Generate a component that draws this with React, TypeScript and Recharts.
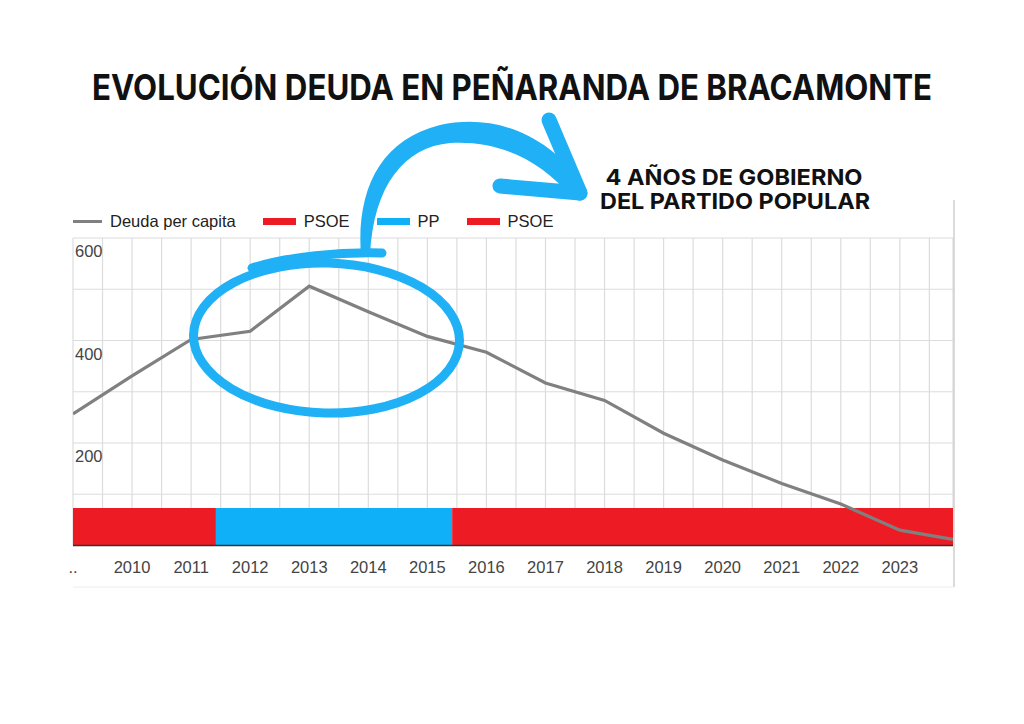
import React from 'react';
import { ComposedChart, Line, XAxis, YAxis, CartesianGrid, ReferenceArea, Legend } from 'recharts';

// deuda per capita (€) por año; el último punto es finales de 2023
const years = [2009, 2010, 2011, 2012, 2013, 2014, 2015, 2016, 2017, 2018, 2019, 2020, 2021, 2022, 2023, 2023.9];
const deuda = [257, 331, 402, 418, 506, 456, 408, 377, 317, 283, 219, 167, 121, 81, 30, 12];

// periodos de gobierno municipal
const periodParty = ['PSOE', 'PP', 'PSOE'];
const periodStart = [2009, 2011.42, 2015.42];
const periodEnd = [2011.42, 2015.42, 2023.9];
const bandTop = 73;

const partyColors: Record<string, string> = { PSOE: '#ed1c24', PP: '#10b0f8' };

const legendNames = ['Deuda per capita', 'PSOE', 'PP', 'PSOE'];
const legendColors = ['#808080', '#ed1c24', '#10b0f8', '#ed1c24'];

const yTicks = [0, 100, 200, 300, 400, 500, 600];
const yLabelled = [200, 400, 600];
const xTicks = Array.from({ length: 30 }, (_, i) => 2009 + i * 0.5);

const data = years.map((year, i) => ({ year, deuda: deuda[i] }));

const TICK_FONT = '"Liberation Sans", Arial, sans-serif';

const XTick = (props: any) => {
  const { x, y, payload } = props;
  const v = payload.value;
  if (!Number.isInteger(v)) return null;
  const label = v === 2009 ? '..' : String(v);
  return (
    <text x={x} y={y} dy={19} textAnchor="middle" fill="#444" fontSize={16.5} fontFamily={TICK_FONT}>
      {label}
    </text>
  );
};

const YTick = (props: any) => {
  const { x, y, payload } = props;
  if (!yLabelled.includes(payload.value)) return null;
  return (
    <text x={x} y={y} dy={19} textAnchor="start" fill="#444" fontSize={16.5} fontFamily={TICK_FONT}>
      {payload.value}
    </text>
  );
};

const LegendContent = () => (
  <div style={{ display: 'flex', alignItems: 'center', height: 22, fontFamily: TICK_FONT, fontSize: 16.5, color: '#222', whiteSpace: 'nowrap' }}>
    {legendNames.map((name, i) => (
      <div key={i} style={{ display: 'flex', alignItems: 'center', marginRight: 27 }}>
        <span
          style={{
            display: 'inline-block',
            width: i === 0 ? 29 : 33,
            height: i === 0 ? 3 : 7,
            background: legendColors[i],
            marginRight: 8,
          }}
        />
        <span>{name}</span>
      </div>
    ))}
  </div>
);

const BLUE = '#1fb0f5';

export default function App() {
  return (
    <div style={{ position: 'absolute', left: 0, top: 0, width: 1024, height: 724, background: '#fff' }}>
      <ComposedChart
        width={1024}
        height={724}
        data={data}
        margin={{ top: 238, right: 71, bottom: 148.5, left: 73 }}
      >
        <CartesianGrid stroke="#dcdcdc" strokeWidth={1.2} />
        <XAxis
          type="number"
          dataKey="year"
          domain={[2009, 2023.9]}
          ticks={xTicks}
          interval={0}
          allowDataOverflow
          tickLine={false}
          axisLine={{ stroke: '#333', strokeWidth: 1.5 }}
          tick={<XTick />}
          height={30}
        />
        <YAxis
          type="number"
          domain={[0, 600]}
          ticks={yTicks}
          mirror
          axisLine={false}
          tickLine={false}
          tickSize={0}
          tickMargin={2}
          tick={<YTick />}
        />
        {periodParty.map((p, i) => (
          <ReferenceArea
            key={i}
            x1={periodStart[i]}
            x2={periodEnd[i]}
            y1={0}
            y2={bandTop}
            fill={partyColors[p]}
            fillOpacity={1}
            stroke="none"
          />
        ))}
        <Line
          type="linear"
          dataKey="deuda"
          stroke="#808080"
          strokeWidth={3.2}
          dot={false}
          isAnimationActive={false}
        />
        <Legend
          layout="horizontal"
          verticalAlign="middle"
          align="center"
          wrapperStyle={{ top: 210, left: 73, width: 'auto', height: 22 }}
          content={<LegendContent />}
        />
      </ComposedChart>

      <svg
        width={1024}
        height={724}
        style={{ position: 'absolute', left: 0, top: 0, pointerEvents: 'none' }}
      >
        {/* marco de la captura */}
        <line x1={954} y1={200} x2={954} y2={587} stroke="#cfcfcf" strokeWidth={1.5} />
        <line x1={73} y1={587} x2={954} y2={587} stroke="#ececec" strokeWidth={1} />

        <text
          x={512}
          y={100}
          textAnchor="middle"
          fontFamily="Inter, sans-serif"
          fontWeight={700}
          fontSize={36}
          textLength={840}
          lengthAdjust="spacingAndGlyphs"
          fill="#111"
        >
          EVOLUCIÓN DEUDA EN PEÑARANDA DE BRACAMONTE
        </text>
        <text
          x={734}
          y={185}
          textAnchor="middle"
          fontFamily="Inter, sans-serif"
          fontWeight={700}
          fontSize={22}
          textLength={257}
          lengthAdjust="spacingAndGlyphs"
          fill="#111"
        >
          4 AÑOS DE GOBIERNO
        </text>
        <text
          x={735}
          y={209}
          textAnchor="middle"
          fontFamily="Inter, sans-serif"
          fontWeight={700}
          fontSize={22}
          textLength={270}
          lengthAdjust="spacingAndGlyphs"
          fill="#111"
        >
          DEL PARTIDO POPULAR
        </text>

        {/* anotación a mano: círculo y flecha */}
        <ellipse cx={326.5} cy={338} rx={133} ry={75} fill="none" stroke={BLUE} strokeWidth={9} transform="rotate(1.5 326.5 338)" />
        <path d="M 252 268 C 290 256, 340 252, 382 253" fill="none" stroke={BLUE} strokeWidth={9} strokeLinecap="round" />
        <path
          d="M 361 256 C 356 190, 380 140, 440 125 C 490 114, 545 130, 584 186 L 572 198 C 540 158, 495 140, 450 143 C 405 147, 373 185, 370 256 Z"
          fill={BLUE}
        />
        <line x1={580} y1={193} x2={549} y2={120} stroke={BLUE} strokeWidth={15} strokeLinecap="round" />
        <line x1={580} y1={193} x2={500} y2={186} stroke={BLUE} strokeWidth={15} strokeLinecap="round" />
      </svg>
    </div>
  );
}
